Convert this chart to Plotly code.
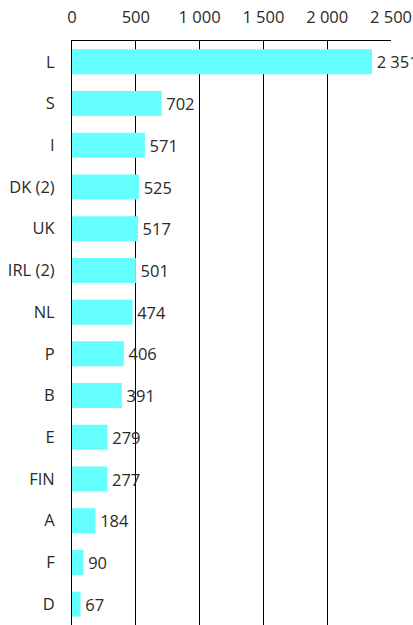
import plotly.graph_objects as go

categories = ["L", "S", "I", "DK (2)", "UK", "IRL (2)", "NL", "P", "B", "E", "FIN", "A", "F", "D"]
values = [2351, 702, 571, 525, 517, 501, 474, 406, 391, 279, 277, 184, 90, 67]
tick_vals = [0, 500, 1000, 1500, 2000, 2500]
tick_text = ["0", "500", "1 000", "1 500", "2 000", "2 500"]

FONT = "Open Sans"
FS = 16.5
TXT = "#2a2a2a"

fig = go.Figure(go.Bar(
    x=values, y=categories, orientation="h",
    marker=dict(color="#66FFFF", line=dict(width=0)),
    width=0.6,
    text=["\u200a" + f"{v:,}".replace(",", " ") for v in values],
    textposition="outside",
    textfont=dict(family=FONT, size=FS, color=TXT),
    cliponaxis=False,
))

fig.update_layout(
    width=413, height=625,
    margin=dict(l=72, r=22, t=41, b=0, autoexpand=False),
    plot_bgcolor="white", paper_bgcolor="white",
    showlegend=False,
    font=dict(family=FONT, size=FS, color=TXT),
)
fig.update_xaxes(
    side="top", range=[0, 2500], tickvals=tick_vals, ticktext=tick_text,
    showgrid=True, gridcolor="black", gridwidth=1,
    showline=True, linecolor="black", linewidth=1,
    zeroline=False, ticks="", ticklabelstandoff=10, automargin=False,
    tickfont=dict(family=FONT, size=FS, color=TXT),
)
fig.update_yaxes(
    autorange="reversed", showline=True, linecolor="black", linewidth=1,
    showgrid=False, ticks="", ticklabelstandoff=13, automargin=False,
    tickfont=dict(family=FONT, size=FS, color=TXT),
)

fig.write_html(
    "out.html",
    config={"displayModeBar": False},
    post_script="document.body.style.margin='0';document.body.style.overflow='hidden';",
)
